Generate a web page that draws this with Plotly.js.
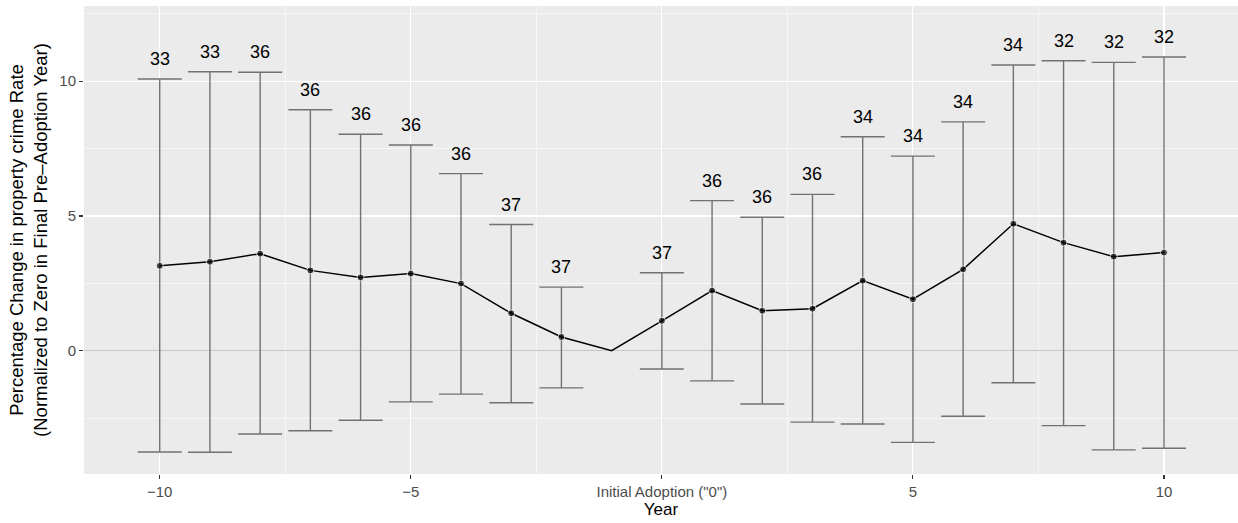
<!DOCTYPE html>
<html>
<head>
<meta charset="utf-8">
<script src="https://cdn.plot.ly/plotly-3.0.1.min.js"></script>
<style>
  html, body { margin: 0; padding: 0; background: #fff; }
  #chart { width: 1238px; height: 523px; }
</style>
</head>
<body>
<div id="chart"></div>
<script>
// Event-study estimates: years relative to initial adoption
const years = [-10, -9, -8, -7, -6, -5, -4, -3, -2, -1, 0, 1, 2, 3, 4, 5, 6, 7, 8, 9, 10];
const estimate = [3.15, 3.30, 3.60, 2.98, 2.72, 2.86, 2.49, 1.39, 0.51, 0, 1.11, 2.23, 1.48, 1.56, 2.60, 1.91, 3.02, 4.71, 4.01, 3.49, 3.64];
const upper = [10.08, 10.35, 10.33, 8.94, 8.03, 7.63, 6.57, 4.68, 2.36, null, 2.89, 5.57, 4.95, 5.80, 7.94, 7.22, 8.49, 10.60, 10.76, 10.70, 10.90];
const lower = [-3.76, -3.77, -3.09, -2.97, -2.58, -1.90, -1.61, -1.93, -1.38, null, -0.68, -1.12, -1.98, -2.65, -2.72, -3.40, -2.43, -1.19, -2.78, -3.68, -3.62];
// number of units contributing to each year's estimate
const counts = [33, 33, 36, 36, 36, 36, 36, 37, 37, null, 37, 36, 36, 36, 34, 34, 34, 34, 32, 32, 32];

const xTickVals = [-10, -5, 0, 5, 10];
const xTickText = ['\u221210', '\u22125', 'Initial Adoption ("0")', '5', '10'];
const yTickVals = [0, 5, 10];

const FONT = '"Liberation Sans", Arial, Helvetica, sans-serif';

// years that carry a confidence interval (the reference year does not)
const ciIdx = years.map((_, i) => i).filter(i => upper[i] !== null);

const ciTrace = {
  type: 'scatter',
  mode: 'markers',
  x: ciIdx.map(i => years[i]),
  y: ciIdx.map(i => estimate[i]),
  marker: { size: 1, color: 'rgba(0,0,0,0)' },
  error_y: {
    type: 'data',
    symmetric: false,
    array: ciIdx.map(i => upper[i] - estimate[i]),
    arrayminus: ciIdx.map(i => estimate[i] - lower[i]),
    color: '#727272',
    thickness: 1.4,
    width: 22
  },
  hoverinfo: 'skip',
  showlegend: false
};

const lineTrace = {
  type: 'scatter',
  mode: 'lines+markers',
  x: years,
  y: estimate,
  line: { color: '#000000', width: 1.5 },
  marker: {
    color: '#000000',
    size: years.map((_, i) => (upper[i] === null ? 0 : 7))
  },
  showlegend: false
};

const countLabels = ciIdx.map(i => ({
  x: years[i],
  y: upper[i],
  xref: 'x',
  yref: 'y',
  text: String(counts[i]),
  showarrow: false,
  xanchor: 'center',
  yanchor: 'bottom',
  yshift: 8,
  font: { family: FONT, size: 18, color: '#000000' }
}));

const layout = {
  width: 1238,
  height: 523,
  margin: { l: 84, r: 0, t: 6, b: 49, pad: 0 },
  paper_bgcolor: '#FFFFFF',
  plot_bgcolor: '#EBEBEB',
  font: { family: FONT, color: '#000000' },
  showlegend: false,
  xaxis: {
    range: [-11.508, 11.474],
    tickmode: 'array',
    tickvals: xTickVals,
    ticktext: xTickText,
    ticks: 'outside',
    ticklen: 4,
    tickwidth: 1.1,
    tickcolor: '#333333',
    tickfont: { family: FONT, size: 15, color: '#4D4D4D' },
    showgrid: true,
    gridcolor: '#FFFFFF',
    gridwidth: 1.1,
    zeroline: false,
    showline: false,
    minor: {
      tickmode: 'array',
      tickvals: [-7.5, -2.5, 2.5, 7.5],
      ticks: '',
      showgrid: true,
      gridcolor: '#FFFFFF',
      gridwidth: 0.55
    },
    title: { text: 'Year', font: { family: FONT, size: 17, color: '#000000' }, standoff: 4 }
  },
  yaxis: {
    range: [-4.575, 12.79],
    tickmode: 'array',
    tickvals: yTickVals,
    ticktext: yTickVals.map(String),
    ticks: 'outside',
    ticklen: 4,
    tickwidth: 1.1,
    tickcolor: '#333333',
    tickfont: { family: FONT, size: 15, color: '#4D4D4D' },
    showgrid: true,
    gridcolor: '#FFFFFF',
    gridwidth: 1.1,
    zeroline: true,
    zerolinecolor: '#C6C6C6',
    zerolinewidth: 1.1,
    showline: false,
    minor: {
      tickmode: 'array',
      tickvals: [-2.5, 2.5, 7.5, 12.5],
      ticks: '',
      showgrid: true,
      gridcolor: '#FFFFFF',
      gridwidth: 0.55
    },
    title: {
      text: 'Percentage Change in property crime Rate<br>(Normalized to Zero in Final Pre\u2013Adoption Year)',
      font: { family: FONT, size: 18.5, color: '#000000' },
      standoff: 6
    }
  },
  annotations: countLabels
};

Plotly.newPlot('chart', [ciTrace, lineTrace], layout, { displayModeBar: false, staticPlot: true });
</script>
</body>
</html>
